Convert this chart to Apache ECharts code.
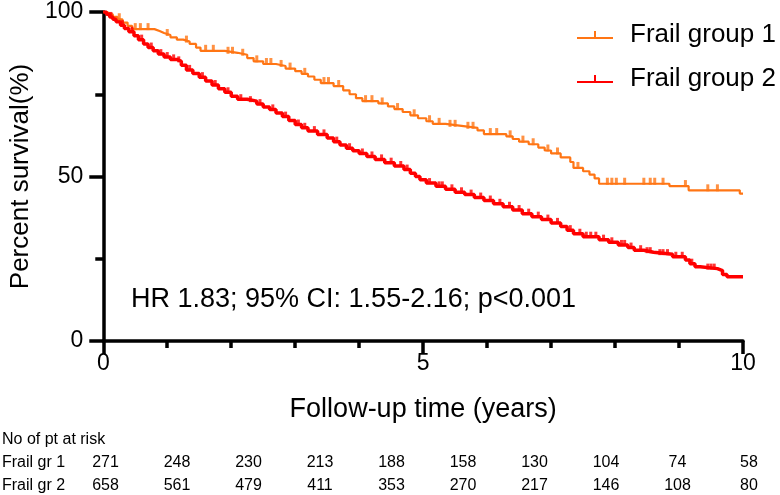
<!DOCTYPE html>
<html>
<head>
<meta charset="utf-8">
<script src="https://cdn.jsdelivr.net/npm/echarts@6/dist/echarts.min.js"></script>
<style>
html,body{margin:0;padding:0;background:#fff;}
#chart{width:780px;height:495px;}
</style>
</head>
<body>
<div id="chart"></div>
<script>
// ---- Data ----
const seriesNames = ['Frail group 1', 'Frail group 2'];

// Kaplan-Meier steps: [years, percent survival]
const group1Steps = [[0,100],[0.05,99.6],[0.1,99.2],[0.15,98.5],[0.22,97.8],[0.3,96.8],[0.38,95.8],[0.45,94.8],[0.8,94.2],[0.88,93.6],[0.95,93.0],[1.05,92.3],[1.15,91.6],[1.25,91.0],[1.35,90.3],[1.45,89.2],[1.52,88.2],[1.9,87.6],[2.1,87.0],[2.25,86.0],[2.35,85.0],[2.5,84.2],[2.7,83.6],[2.85,82.8],[3.0,82.0],[3.1,81.2],[3.2,80.4],[3.3,79.4],[3.4,78.4],[3.6,77.5],[3.75,76.2],[3.85,75.0],[3.95,73.8],[4.05,72.9],[4.3,72.2],[4.45,71.3],[4.55,70.5],[4.68,69.6],[4.8,68.6],[4.92,67.7],[5.05,66.8],[5.15,66.0],[5.35,65.4],[5.6,64.8],[5.85,64.0],[5.95,62.9],[6.3,62.2],[6.4,61.4],[6.5,60.6],[6.65,59.8],[6.8,58.8],[6.9,57.9],[7.0,57.0],[7.15,55.8],[7.3,54.4],[7.35,52.6],[7.5,51.6],[7.6,50.6],[7.68,49.4],[7.75,47.8],[8.85,47.1],[9.15,45.8],[9.95,44.8],[10,44.8]];

const group2Steps = [[0,100],[0.05,99.3],[0.1,98.5],[0.15,97.8],[0.2,97.0],[0.27,96.0],[0.33,95.0],[0.4,94.0],[0.48,92.8],[0.55,91.6],[0.63,90.3],[0.7,89.2],[0.78,88.2],[0.86,87.2],[0.95,86.3],[1.05,85.6],[1.15,85.0],[1.22,83.8],[1.3,82.4],[1.4,81.3],[1.5,80.2],[1.6,79.0],[1.7,77.8],[1.8,76.7],[1.9,75.6],[2.0,74.4],[2.1,73.5],[2.25,72.9],[2.4,72.0],[2.5,71.1],[2.6,70.4],[2.7,69.3],[2.8,68.2],[2.9,67.0],[3.0,65.8],[3.1,64.8],[3.2,63.8],[3.35,62.8],[3.5,61.7],[3.6,60.6],[3.7,59.6],[3.8,58.6],[3.9,57.8],[4.0,57.0],[4.12,56.1],[4.25,55.2],[4.4,54.2],[4.55,53.2],[4.7,52.1],[4.8,51.0],[4.88,50.0],[4.95,49.0],[5.05,48.0],[5.2,47.0],[5.35,46.1],[5.5,45.2],[5.65,44.5],[5.8,43.6],[5.95,42.7],[6.1,41.7],[6.25,40.8],[6.4,39.8],[6.55,38.7],[6.7,37.8],[6.85,36.9],[7.0,35.9],[7.15,34.8],[7.25,33.7],[7.35,32.6],[7.5,31.7],[7.75,30.8],[7.9,30.0],[8.05,29.2],[8.2,28.4],[8.3,27.6],[8.45,27.0],[8.6,26.4],[8.9,25.6],[9.1,24.6],[9.17,23.5],[9.25,22.6],[9.33,22.0],[9.6,21.4],[9.68,20.2],[9.75,19.5],[10,19.5]];

// Censored observations: [years, percent survival]
const group1Censored = [[0.25,97.8],[0.5,94.8],[0.58,94.8],[0.7,94.8],[1.0,93.0],[1.3,91.0],[1.6,88.2],[1.72,88.2],[1.95,87.6],[2.02,87.6],[2.18,87.0],[2.4,85.0],[2.55,84.2],[2.62,84.2],[2.78,83.6],[2.92,82.8],[3.15,81.2],[3.45,78.4],[3.52,78.4],[3.68,77.5],[4.1,72.9],[4.2,72.9],[4.36,72.2],[4.6,70.5],[4.86,68.6],[5.1,66.8],[5.25,66.0],[5.42,65.4],[5.5,65.4],[5.7,64.8],[5.78,64.8],[6.05,62.9],[6.15,62.9],[6.36,62.2],[6.56,60.6],[6.72,59.8],[6.95,57.9],[7.1,57.0],[7.42,52.6],[7.88,47.8],[7.95,47.8],[8.02,47.8],[8.15,47.8],[8.45,47.8],[8.55,47.8],[8.62,47.8],[8.75,47.8],[9.1,47.1],[9.45,45.8],[9.6,45.8]];

const group2Censored = [[0.12,98.5],[0.3,96.0],[0.45,94.0],[0.6,91.6],[0.75,89.2],[0.9,87.2],[1.0,86.3],[1.1,85.6],[1.18,85.0],[1.35,82.4],[1.55,80.2],[1.75,77.8],[1.95,75.6],[2.15,73.5],[2.3,72.9],[2.45,72.0],[2.65,70.4],[2.85,68.2],[3.05,65.8],[3.15,64.8],[3.3,63.8],[3.45,62.8],[3.65,60.6],[3.85,58.6],[4.05,57.0],[4.2,56.1],[4.35,55.2],[4.5,54.2],[4.65,53.2],[4.75,52.1],[5.1,48.0],[5.25,47.0],[5.3,47.0],[5.45,46.1],[5.6,45.2],[5.75,44.5],[5.9,43.6],[6.05,42.7],[6.2,41.7],[6.35,40.8],[6.5,39.8],[6.65,38.7],[6.8,37.8],[6.95,36.9],[7.1,35.9],[7.3,33.7],[7.45,32.6],[7.55,31.7],[7.62,31.7],[7.7,31.7],[7.82,30.8],[7.95,30.0],[8.1,29.2],[8.15,29.2],[8.25,28.4],[8.4,27.6],[8.5,27.0],[8.55,27.0],[8.7,26.4],[8.75,26.4],[8.82,26.4],[8.95,25.6],[9.05,25.6],[9.2,23.5],[9.45,22.0],[9.5,22.0],[9.55,22.0]];

const xTickLabels = [0, 5, 10];
const yTickLabels = [0, 50, 100];

const riskTitle = 'No of pt at risk';
const riskRowNames = ['Frail gr 1', 'Frail gr 2'];
const atRiskGroup1 = [271, 248, 230, 213, 188, 158, 130, 104, 74, 58];
const atRiskGroup2 = [658, 561, 479, 411, 353, 270, 217, 146, 108, 80];

const annotationText = 'HR 1.83; 95% CI: 1.55-2.16; p<0.001';
const xAxisTitle = 'Follow-up time (years)';
const yAxisTitle = 'Percent survival(%)';

// ---- Styles ----
const colors = ['#FF7514', '#FF0000'];
const FONT = 'Liberation Sans, Arial, sans-serif';

const chart = echarts.init(document.getElementById('chart'), null, {renderer: 'canvas'});

const legendIcon = 'path://M0,8 L36,8 L36,10 L0,10 Z M17,2 L19,2 L19,9 L17,9 Z';

function censorSeries(name, data, color, size) {
  return {
    name: name,
    type: 'scatter',
    data: data,
    symbol: 'rect',
    symbolSize: size,
    symbolOffset: [0, -size[1] / 2 + 1],
    itemStyle: {color: color},
    silent: true,
    z: 3
  };
}

// risk table graphics
const tableGraphics = [];
tableGraphics.push({type: 'text', left: 2, top: 432, style: {text: riskTitle, font: '16px ' + FONT, fill: '#000'}});
const riskRows = [atRiskGroup1, atRiskGroup2];
riskRows.forEach(function (row, r) {
  const y = 455 + r * 22.5;
  tableGraphics.push({type: 'text', left: 2, top: y, style: {text: riskRowNames[r], font: '16px ' + FONT, fill: '#000'}});
  row.forEach(function (v, i) {
    tableGraphics.push({type: 'text', x: 105.5 + 71.5 * i, y: y, style: {text: String(v), font: '16px ' + FONT, fill: '#000', textAlign: 'center', textVerticalAlign: 'top'}});
  });
});

const option = {
  animation: false,
  backgroundColor: '#fff',
  color: colors,
  grid: {left: 101, right: 37, top: 12, bottom: 154, containLabel: false},
  legend: {
    orient: 'vertical',
    left: 572,
    top: 17,
    itemWidth: 36,
    itemHeight: 8,
    itemGap: 18,
    icon: legendIcon,
    data: seriesNames,
    textStyle: {fontFamily: FONT, fontSize: 26, color: '#000', lineHeight: 26, padding: [0, 0, 0, 12]}
  },
  xAxis: {
    type: 'value',
    min: 0,
    max: 10,
    interval: 5,
    name: xAxisTitle,
    nameLocation: 'middle',
    nameGap: 55,
    nameTextStyle: {fontFamily: FONT, fontSize: 27, color: '#000'},
    axisLine: {lineStyle: {color: '#000', width: 3.5}},
    axisTick: {length: 13, lineStyle: {color: '#000', width: 3.5}},
    minorTick: {show: true, splitNumber: 5, length: 7, lineStyle: {color: '#000', width: 3.5}},
    splitLine: {show: false},
    minorSplitLine: {show: false},
    axisLabel: {
      fontFamily: FONT, fontSize: 23, color: '#000', margin: 11,
      formatter: function (v) { return xTickLabels.indexOf(v) >= 0 ? String(v) : ''; }
    }
  },
  yAxis: {
    type: 'value',
    min: 0,
    max: 100,
    interval: 50,
    name: yAxisTitle,
    nameLocation: 'middle',
    nameGap: 66,
    nameTextStyle: {fontFamily: FONT, fontSize: 26, color: '#000'},
    axisLine: {lineStyle: {color: '#000', width: 3.5}},
    axisTick: {length: 14, lineStyle: {color: '#000', width: 3.5}},
    minorTick: {show: true, splitNumber: 2, length: 8, lineStyle: {color: '#000', width: 3.5}},
    splitLine: {show: false},
    minorSplitLine: {show: false},
    axisLabel: {
      fontFamily: FONT, fontSize: 23, color: '#000', margin: 20,
      formatter: function (v) { return yTickLabels.indexOf(v) >= 0 ? String(v) : ''; }
    }
  },
  graphic: [
    {type: 'text', left: 131, top: 286, style: {text: annotationText, font: '27px ' + FONT, fill: '#000'}}
  ].concat(tableGraphics),
  series: [
    {
      name: seriesNames[0], type: 'line', step: 'end', data: group1Steps,
      showSymbol: false, lineStyle: {width: 2.2, color: colors[0]}, itemStyle: {color: colors[0]}, z: 2
    },
    censorSeries(seriesNames[0], group1Censored, colors[0], [3, 7]),
    {
      name: seriesNames[1], type: 'line', step: 'end', data: group2Steps,
      showSymbol: false, lineStyle: {width: 3.5, color: colors[1]}, itemStyle: {color: colors[1]}, z: 2
    },
    censorSeries(seriesNames[1], group2Censored, colors[1], [3, 6])
  ]
};
chart.setOption(option);
</script>
</body>
</html>
